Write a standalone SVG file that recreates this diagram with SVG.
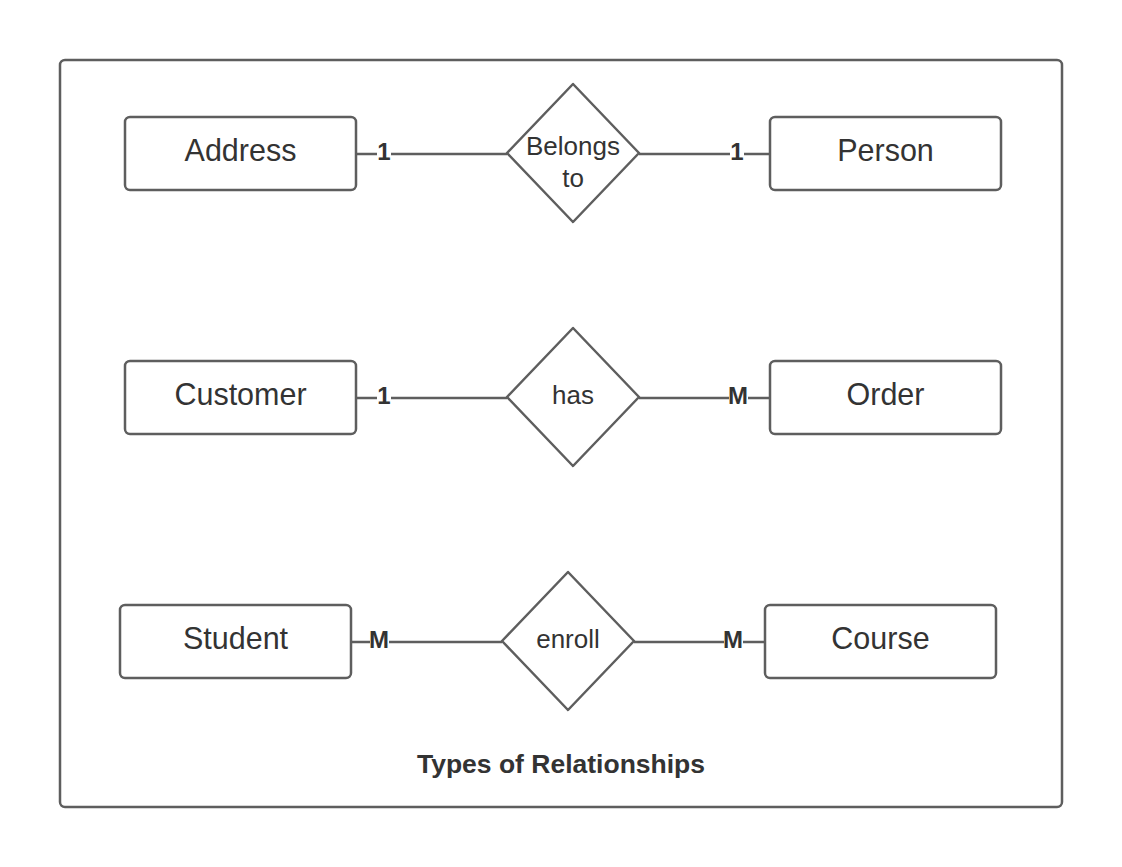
<svg xmlns="http://www.w3.org/2000/svg" width="1122" height="867" viewBox="0 0 1122 867">
<style>
.frame{fill:#fff;stroke:#5e5e5e;stroke-width:2.5}
.ent{fill:#fff;stroke:#5e5e5e;stroke-width:2.5}
.rel{fill:#fff;stroke:#5e5e5e;stroke-width:2.5;stroke-linejoin:round}
.line{stroke:#5e5e5e;stroke-width:2.5;fill:none}
.et{font-family:"Liberation Sans",Arial,sans-serif;font-size:30.5px;fill:#333;text-anchor:middle}
.rt{font-family:"Liberation Sans",Arial,sans-serif;font-size:26px;fill:#333;text-anchor:middle}
.card{font-family:"Liberation Sans",Arial,sans-serif;font-size:24px;font-weight:bold;fill:#333;text-anchor:middle}
.title{font-family:"Liberation Sans",Arial,sans-serif;font-size:26.5px;font-weight:bold;fill:#333;text-anchor:middle}
.bg{fill:#fff}
</style>
<rect width="1122" height="867" fill="#fff"/>
<rect class="frame" x="60" y="60" width="1002" height="747" rx="5"/>
<g id="connectors">
<line class="line" x1="356" y1="154" x2="507" y2="154"/>
<line class="line" x1="639" y1="154" x2="770" y2="154"/>
<line class="line" x1="356" y1="398" x2="507" y2="398"/>
<line class="line" x1="639" y1="398" x2="770" y2="398"/>
<line class="line" x1="351" y1="642" x2="502" y2="642"/>
<line class="line" x1="634" y1="642" x2="765" y2="642"/>
<rect class="bg" x="377" y="141" width="14" height="20"/>
<text class="card" x="384" y="160">1</text>
<rect class="bg" x="730" y="141" width="14" height="20"/>
<text class="card" x="737" y="160">1</text>
<rect class="bg" x="377" y="385" width="14" height="20"/>
<text class="card" x="384" y="403.5">1</text>
<rect class="bg" x="729" y="385" width="19" height="20"/>
<text class="card" x="738" y="403.5">M</text>
<rect class="bg" x="370" y="629" width="19" height="20"/>
<text class="card" x="379" y="647.5">M</text>
<rect class="bg" x="724" y="629" width="19" height="20"/>
<text class="card" x="733" y="647.5">M</text>
</g>
<g id="address"><rect class="ent" x="125" y="117" width="231" height="73" rx="5"/><text class="et" x="240.5" y="161">Address</text></g>
<g id="person"><rect class="ent" x="770" y="117" width="231" height="73" rx="5"/><text class="et" x="885.5" y="161">Person</text></g>
<g id="belongs-to"><polygon class="rel" points="573,84 639,153 573,222 507,153"/><text class="rt" x="573" y="155">Belongs</text><text class="rt" x="573" y="187">to</text></g>
<g id="customer"><rect class="ent" x="125" y="361" width="231" height="73" rx="5"/><text class="et" x="240.5" y="405">Customer</text></g>
<g id="order"><rect class="ent" x="770" y="361" width="231" height="73" rx="5"/><text class="et" x="885.5" y="405">Order</text></g>
<g id="has"><polygon class="rel" points="573,328 639,397 573,466 507,397"/><text class="rt" x="573" y="404">has</text></g>
<g id="student"><rect class="ent" x="120" y="605" width="231" height="73" rx="5"/><text class="et" x="235.5" y="649">Student</text></g>
<g id="course"><rect class="ent" x="765" y="605" width="231" height="73" rx="5"/><text class="et" x="880.5" y="649">Course</text></g>
<g id="enroll"><polygon class="rel" points="568,572 634,641 568,710 502,641"/><text class="rt" x="568" y="648">enroll</text></g>
<text class="title" x="561" y="773">Types of Relationships</text>
</svg>
